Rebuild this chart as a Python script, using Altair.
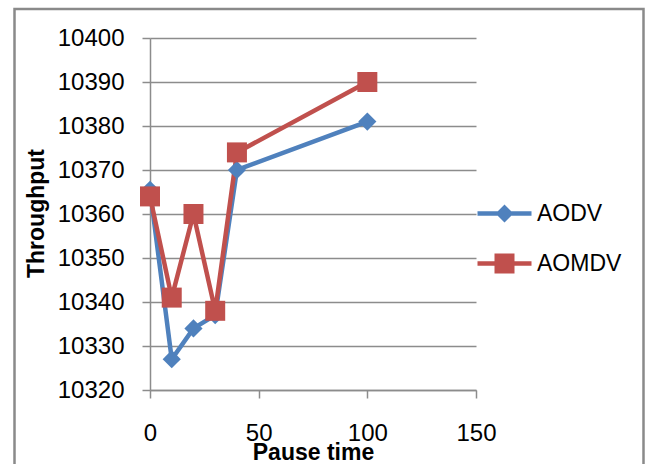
import altair as alt
import pandas as pd

# ---- data ----
pause_time = [0, 10, 20, 30, 40, 100]
aodv = [10365.5, 10327, 10334, 10337, 10370, 10381]
aomdv = [10364, 10341, 10360, 10338, 10374, 10390]
series_names = ["AODV", "AOMDV"]
series_colors = ["#4F81BD", "#C0504D"]
x_ticks = [0, 50, 100, 150]
y_ticks = [10320, 10330, 10340, 10350, 10360, 10370, 10380, 10390, 10400]

rows = []
for name, vals in zip(series_names, [aodv, aomdv]):
    for t, v in zip(pause_time, vals):
        rows.append({"series": name, "pause": t, "throughput": v})
df = pd.DataFrame(rows)

FONT = "Liberation Sans"
GRAY = "#8c8c8c"

x_enc = alt.X(
    "pause:Q",
    scale=alt.Scale(domain=[0, 150], nice=False, zero=False),
    axis=alt.Axis(
        values=x_ticks, grid=False, domainColor=GRAY, domainWidth=1.5,
        tickColor=GRAY, tickWidth=1.5, tickSize=8,
        labelFont=FONT, labelFontSize=24, labelColor="#000000", labelPadding=23,
        labelBaseline="top", labelFlush=False, labelOverlap=False,
        title="Pause time", titleFont=FONT, titleFontSize=23, titleFontWeight="bold",
        titleColor="#000000", titleBaseline="alphabetic", titleY=69,
    ),
)
y_enc = alt.Y(
    "throughput:Q",
    scale=alt.Scale(domain=[10320, 10400], nice=False, zero=False),
    axis=alt.Axis(
        values=y_ticks, format="d", grid=True, gridColor=GRAY, gridWidth=1.5,
        domainColor=GRAY, domainWidth=1.5, tickColor=GRAY, tickWidth=1.5, tickSize=8,
        labelFont=FONT, labelFontSize=24, labelColor="#000000", labelPadding=18,
        labelFlush=False, labelOverlap=False,
        title="Throughput", titleFont=FONT, titleFontSize=23, titleFontWeight="bold",
        titleColor="#000000", titleAngle=-90, titleBaseline="middle",
        titleX=-114, titleY=175,
    ),
)

# chart frame
frame = alt.Chart(pd.DataFrame({"f": [1]})).mark_rect(
    fillOpacity=0, stroke="#8a8a8a", strokeWidth=2.5
).encode(
    x=alt.value(-135.5), x2=alt.value(493.5), y=alt.value(-29), y2=alt.value(445)
)

layers = [frame]
marker_shapes = ["diamond", "square"]
marker_sizes = [330, 400]
for name, color in zip(series_names, series_colors):
    layers.append(
        alt.Chart(df).transform_filter(alt.datum.series == name)
        .mark_line(color=color, strokeWidth=4.5)
        .encode(x=x_enc, y=y_enc, order="pause:Q")
    )
for name, color, shp, sz in zip(series_names, series_colors, marker_shapes, marker_sizes):
    layers.append(
        alt.Chart(df).transform_filter(alt.datum.series == name)
        .mark_point(color=color, shape=shp, size=sz, filled=True, opacity=1)
        .encode(x=x_enc, y=y_enc)
    )

# legend symbols: line + marker
leg_paths = [
    "M-2.7,-0.225H2.7V0.225H-2.7Z M0,-0.9L0.9,0L0,0.9L-0.9,0Z",
    "M-2.7,-0.225H2.7V0.225H-2.7Z M-1,-1H1V1H-1Z",
]
leg = alt.Legend(
    title=None, orient="none", legendX=343, legendY=164,
    symbolSize=400, symbolStrokeWidth=0, labelFont=FONT, labelFontSize=23,
    labelColor="#000000", labelOffset=21, rowPadding=26, padding=0,
)
legend_layer = (
    alt.Chart(df).transform_filter("false")
    .mark_point(filled=True, opacity=1)
    .encode(
        color=alt.Color("series:N", scale=alt.Scale(domain=series_names, range=series_colors), legend=leg),
        shape=alt.Shape("series:N", scale=alt.Scale(domain=series_names, range=leg_paths), legend=leg),
    )
)
layers.append(legend_layer)

chart = alt.layer(*layers).properties(
    width=326, height=352,
    autosize="none",
    padding={"left": 150, "top": 38, "right": 173, "bottom": 74},
    background="#ffffff",
).configure_view(stroke=None)

chart.save("out.html", embed_options={"renderer": "svg", "actions": False})
